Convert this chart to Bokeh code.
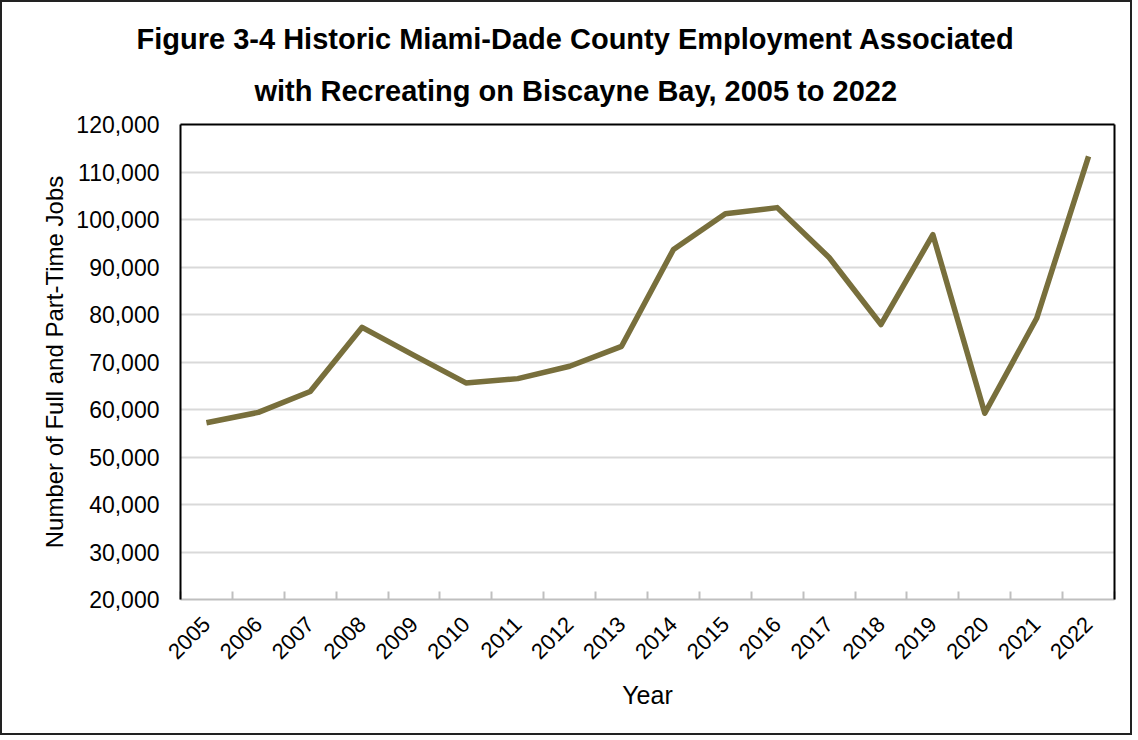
from bokeh.plotting import figure
from bokeh.models import (Range1d, FixedTicker, LinearAxis, NumeralTickFormatter,
                          BasicTickFormatter, Title)
from bokeh.embed import file_html
from bokeh.resources import INLINE

years = [2005, 2006, 2007, 2008, 2009, 2010, 2011, 2012, 2013,
         2014, 2015, 2016, 2017, 2018, 2019, 2020, 2021, 2022]
jobs = [57200, 59400, 63800, 77300, 71400, 65600, 66500, 69100, 73300,
        93700, 101200, 102500, 92000, 77900, 96800, 59200, 79200, 113300]
y_ticks = [20000, 30000, 40000, 50000, 60000, 70000, 80000, 90000, 100000, 110000, 120000]
title_line1 = "Figure 3-4 Historic Miami-Dade County Employment Associated"
title_line2 = "with Recreating on Biscayne Bay, 2005 to 2022"
FONT = "Liberation Sans"

p = figure(width=1132, height=735, output_backend="svg", toolbar_location=None,
           title=None,
           x_range=Range1d(years[0] - 0.5, years[-1] + 0.5),
           y_range=Range1d(20000, 120000),
           min_border_left=178, min_border_right=20,
           min_border_top=122, min_border_bottom=138)
p.styles = {"border": "2px solid #222222"}
p.background_fill_color = "white"
p.border_fill_color = "white"
p.outline_line_color = None

p.line(years, jobs, line_color="#786f3c", line_width=5.5, line_join="round")

# Grid
p.xgrid.grid_line_color = None
p.ygrid.ticker = FixedTicker(ticks=y_ticks)
p.ygrid.grid_line_color = "#d9d9d9"
p.ygrid.grid_line_width = 2

# X axis
xa = p.xaxis[0]
xa.ticker = FixedTicker(ticks=years, minor_ticks=[y - 0.5 for y in years] + [years[-1] + 0.5])
xa.formatter = BasicTickFormatter(use_scientific=False)
xa.major_tick_in = 0
xa.major_tick_out = 0
xa.minor_tick_in = 8
xa.minor_tick_out = 0
xa.minor_tick_line_color = "#bfbfbf"
xa.minor_tick_line_width = 2
xa.axis_line_color = "#bfbfbf"
xa.axis_line_width = 2
xa.major_label_orientation = 0.785398
xa.major_label_text_font = FONT
xa.major_label_text_font_size = "22px"
xa.major_label_text_color = "black"
xa.major_label_standoff = 21
xa.axis_label = "Year"
xa.axis_label_text_font = FONT
xa.axis_label_text_font_size = "25px"
xa.axis_label_text_font_style = "normal"
xa.axis_label_text_color = "black"
xa.axis_label_standoff = 12

# Y axis
ya = p.yaxis[0]
ya.ticker = FixedTicker(ticks=y_ticks)
ya.formatter = NumeralTickFormatter(format="0,0")
ya.major_tick_in = 0
ya.major_tick_out = 0
ya.minor_tick_in = 0
ya.minor_tick_out = 0
ya.axis_line_color = "black"
ya.axis_line_width = 2
ya.major_label_text_font = FONT
ya.major_label_text_font_size = "23px"
ya.major_label_text_color = "black"
ya.major_label_standoff = 21
ya.axis_label = "Number of Full and Part-Time Jobs"
ya.axis_label_text_font = FONT
ya.axis_label_text_font_size = "24px"
ya.axis_label_text_font_style = "normal"
ya.axis_label_text_color = "black"
ya.axis_label_standoff = 5

# Frame edges: right and top
for loc in ("right", "above"):
    ax = LinearAxis(ticker=FixedTicker(ticks=[]), major_label_text_font_size="0px",
                    axis_line_color="black", axis_line_width=2,
                    major_tick_in=0, major_tick_out=0, minor_tick_in=0, minor_tick_out=0)
    p.add_layout(ax, loc)

# Two-line title (added nearest-first), each line centred on the whole chart
for txt, standoff, off in ((title_line2, 36, 74), (title_line1, 0, -44)):
    t = Title(text=txt, align="left", offset=off, text_font=FONT, text_font_size="29px",
              text_font_style="bold", text_color="black", standoff=standoff,
              text_line_height=1.5)
    p.add_layout(t, "above")

open("out.html", "w").write(file_html(p, INLINE))
